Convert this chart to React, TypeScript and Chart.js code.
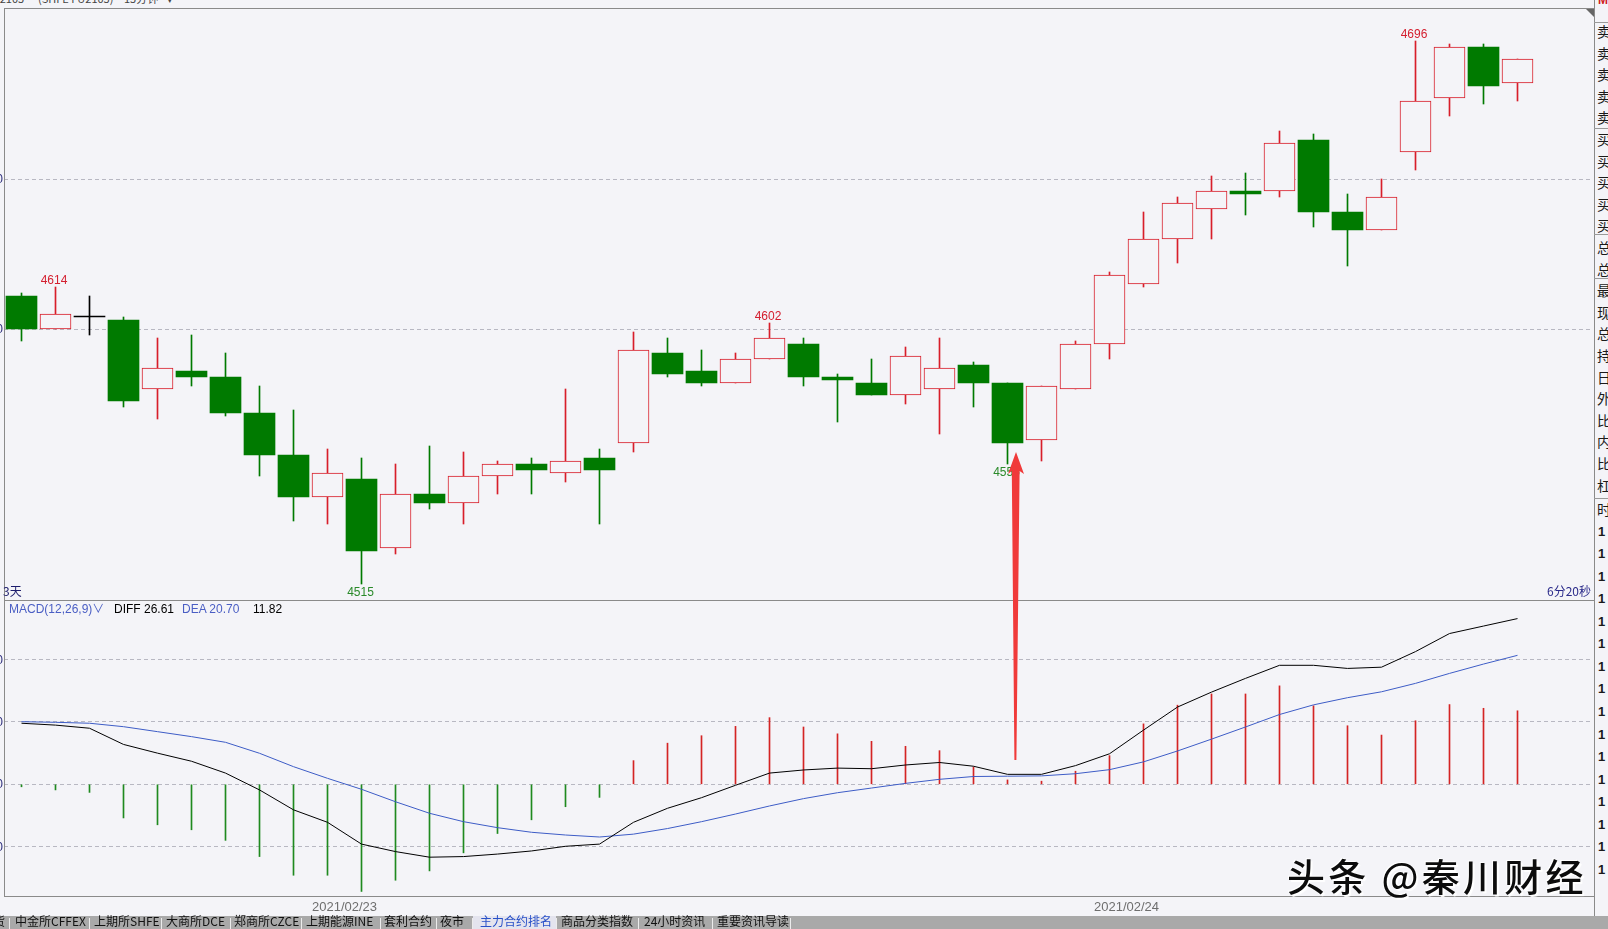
import React, { useEffect, useRef } from "react";
import { Chart, registerables } from "chart.js";

Chart.register(...registerables);

// ---------- data (15-minute candles) ----------
const opens = [4611, 4600, 4604, 4603, 4580, 4586, 4584, 4572, 4558, 4544, 4550, 4527, 4545, 4542, 4551, 4555, 4552, 4557, 4562, 4592, 4586, 4582, 4590, 4595, 4584, 4582, 4578, 4580, 4588, 4582, 4563, 4580, 4595, 4615, 4630, 4640, 4646, 4646, 4663, 4639, 4633, 4659, 4677, 4694, 4682];
const highs = [4612, 4614, 4611, 4604, 4597, 4598, 4592, 4581, 4573, 4560, 4557, 4555, 4561, 4559, 4556, 4557, 4580, 4560, 4599, 4597, 4593, 4592, 4602, 4597, 4585, 4590, 4594, 4597, 4589, 4582, 4581, 4596, 4619, 4639, 4644, 4651, 4652, 4666, 4665, 4645, 4650, 4696, 4695, 4695, 4690];
const lows = [4596, 4600, 4598, 4574, 4570, 4581, 4571, 4551, 4536, 4535, 4515, 4525, 4540, 4535, 4545, 4545, 4549, 4535, 4559, 4584, 4581, 4582, 4590, 4581, 4569, 4578, 4575, 4565, 4574, 4555, 4556, 4580, 4590, 4614, 4622, 4630, 4638, 4644, 4634, 4621, 4633, 4653, 4671, 4675, 4676];
const closes = [4600, 4605, 4604, 4576, 4587, 4584, 4572, 4558, 4544, 4552, 4526, 4545, 4542, 4551, 4555, 4553, 4556, 4553, 4593, 4585, 4582, 4590, 4597, 4584, 4583, 4578, 4591, 4587, 4582, 4562, 4581, 4595, 4618, 4630, 4642, 4646, 4645, 4662, 4639, 4633, 4644, 4676, 4694, 4681, 4690];
const highMarkIndex = [1, 22, 41];
const lowMarkIndex = [10, 29];
const priceGridTicks = [4600, 4650];

// ---------- MACD(12,26,9) ----------
const diffValues = [9.8, 9.5, 9.0, 6.4, 5.0, 3.7, 1.8, -0.9, -4.1, -6.1, -9.6, -10.8, -11.7, -11.6, -11.2, -10.7, -9.95, -9.6, -6.1, -3.85, -2.15, -0.16, 1.8, 2.3, 2.6, 2.5, 3.1, 3.5, 2.9, 1.6, 1.6, 3.0, 4.9, 8.7, 12.4, 14.8, 17.0, 19.1, 19.1, 18.6, 18.8, 21.3, 24.2, 25.4, 26.6];
const deaValues = [10.05, 9.95, 9.8, 9.25, 8.45, 7.65, 6.74, 4.98, 2.83, 0.96, -0.8, -2.8, -4.65, -6.0, -6.96, -7.7, -8.14, -8.46, -8.0, -7.1, -6.0, -4.77, -3.48, -2.3, -1.35, -0.6, 0.15, 0.8, 1.25, 1.3, 1.35, 1.7, 2.35, 3.6, 5.35, 7.25, 9.2, 11.2, 12.75, 13.9, 14.85, 16.2, 17.8, 19.3, 20.7];
const macdValues = [-0.4, -0.9, -1.3, -5.4, -6.5, -7.3, -9.0, -11.6, -14.6, -14.6, -17.2, -15.4, -13.9, -11.0, -7.9, -5.7, -3.6, -2.1, 3.8, 6.6, 7.8, 9.3, 10.7, 9.2, 8.1, 6.9, 6.1, 5.4, 2.8, 0.7, 0.5, 2.1, 4.6, 9.7, 12.7, 14.5, 14.5, 15.8, 12.6, 9.4, 7.9, 10.2, 12.8, 12.2, 11.8];
const macdGridTicks = [-10, 0, 10, 20];
const dateTickPositions = [9.5, 32.5];
const dateTickLabels = ["2021/02/23", "2021/02/24"];

const rightColumnChars = ["卖", "卖", "卖", "卖", "卖", "买", "买", "买", "买", "买", "总", "总", "最", "现", "总", "持", "日", "外", "比", "内", "比", "杠"];
const tabLabels = ["中金所CFFEX", "上期所SHFE", "大商所DCE", "郑商所CZCE", "上期能源INE", "套利合约", "夜市", "主力合约排名", "商品分类指数", "24小时资讯", "重要资讯导读"];

// ---------- layout / style constants ----------
const W = 1608;
const H = 929;
const BG = "#f4f4f8";
const UP = "#d81e2a";
const DOWN = "#007a00";
const DOJI = "#000000";
const GRID = "#b8b8c2";
const FRAME = "#8a8a8a";
const CH_LEFT = 4;
const CH_WIDTH = 1589;
const SLOT = 34;
const xMin = -0.5 - 0.5 / SLOT;
const xMax = xMin + CH_WIDTH / SLOT;
const MAIN_TOP = 9;
const MAIN_H = 591;
const priceMin = 4600 - (MAIN_H - 320) / 3;
const priceMax = 4600 + 320 / 3;
const MACD_TOP = 601;
const MACD_AREA_H = 295;
const MACD_PX_PER_UNIT = 6.23;
const MACD_ZERO = 183.3;
const macdMax = MACD_ZERO / MACD_PX_PER_UNIT;
const macdMin = -(MACD_AREA_H - MACD_ZERO) / MACD_PX_PER_UNIT;

const LATIN = '"Liberation Sans", Arial, "Noto Sans CJK SC", sans-serif';
const CJK = '"Noto Sans CJK SC", "Liberation Sans", sans-serif';

const barIndex = opens.map((_, i) => i);
const candleColor = (i: number) => (closes[i] > opens[i] ? UP : closes[i] < opens[i] ? DOWN : DOJI);

const markPlugin = {
  id: "marks",
  afterDatasetsDraw(chart: any) {
    const { ctx } = chart;
    const x = chart.scales.x;
    const y = chart.scales.y;
    ctx.save();
    ctx.font = '12px "Liberation Sans", Arial, sans-serif';
    ctx.textAlign = "center";
    highMarkIndex.forEach((i) => {
      ctx.fillStyle = "#d42030";
      ctx.textBaseline = "alphabetic";
      ctx.fillText(String(highs[i]), x.getPixelForValue(i) - 1.5, y.getPixelForValue(highs[i]) - 3);
    });
    lowMarkIndex.forEach((i) => {
      ctx.fillStyle = "#2a8a2a";
      ctx.textBaseline = "top";
      ctx.fillText(String(lows[i]), x.getPixelForValue(i) - 1, y.getPixelForValue(lows[i]) + 3);
    });
    ctx.restore();
  },
};

function Txt(props: { x: number; y: number; children: any; style?: any; right?: boolean }) {
  const base: any = {
    position: "absolute",
    top: props.y,
    whiteSpace: "nowrap",
    lineHeight: "1",
    zIndex: 5,
  };
  if (props.right) base.right = W - props.x;
  else base.left = props.x;
  return <span style={{ ...base, ...(props.style || {}) }}>{props.children}</span>;
}

function Line(props: { x: number; y: number; w: number; h: number; c?: string }) {
  return (
    <div
      style={{
        position: "absolute",
        left: props.x,
        top: props.y,
        width: props.w,
        height: props.h,
        background: props.c || FRAME,
        zIndex: 4,
      }}
    />
  );
}

export default function App() {
  const mainRef = useRef<HTMLCanvasElement>(null);
  const macdRef = useRef<HTMLCanvasElement>(null);

  useEffect(() => {
    const main = new Chart(mainRef.current as HTMLCanvasElement, {
      type: "bar",
      data: {
        datasets: [
          {
            label: "body",
            data: barIndex.map((i) => ({ x: i, y: [opens[i], closes[i]] })) as any,
            backgroundColor: barIndex.map((i) => (closes[i] > opens[i] ? BG : candleColor(i))),
            borderColor: barIndex.map((i) => candleColor(i)),
            borderWidth: barIndex.map((i) => (closes[i] > opens[i] ? 1 : 0)) as any,
            borderSkipped: false,
            barThickness: 31,
            minBarLength: 1,
            grouped: false,
            order: 0,
          } as any,
          {
            label: "wick",
            data: barIndex.map((i) => ({ x: i, y: [lows[i], highs[i]] })) as any,
            backgroundColor: barIndex.map((i) => candleColor(i)),
            borderWidth: 0,
            barThickness: 1,
            grouped: false,
            order: 1,
          } as any,
        ],
      },
      options: {
        responsive: false,
        animation: false,
        events: [],
        layout: { padding: 0 },
        plugins: { legend: { display: false }, tooltip: { enabled: false } },
        scales: {
          x: { type: "linear", min: xMin, max: xMax, display: false, offset: false },
          y: {
            type: "linear",
            min: priceMin,
            max: priceMax,
            position: "left",
            afterBuildTicks: (s: any) => {
              s.ticks = priceGridTicks.map((v) => ({ value: v }));
            },
            afterFit: (s: any) => {
              s.width = 0;
            },
            ticks: { display: false },
            grid: { color: GRID, lineWidth: 1, drawTicks: false },
            border: { display: false, dash: [4, 3] },
          } as any,
        },
      },
      plugins: [markPlugin],
    });

    const macd = new Chart(macdRef.current as HTMLCanvasElement, {
      type: "bar",
      data: {
        datasets: [
          {
            type: "line",
            label: "DIFF",
            data: barIndex.map((i) => ({ x: i, y: diffValues[i] })),
            borderColor: "#000000",
            borderWidth: 1,
            pointRadius: 0,
            tension: 0,
            order: 0,
          } as any,
          {
            type: "line",
            label: "DEA",
            data: barIndex.map((i) => ({ x: i, y: deaValues[i] })),
            borderColor: "#3d5cc6",
            borderWidth: 1,
            pointRadius: 0,
            tension: 0,
            order: 1,
          } as any,
          {
            type: "bar",
            label: "MACD",
            data: barIndex.map((i) => ({ x: i, y: macdValues[i] })),
            backgroundColor: macdValues.map((v) => (v >= 0 ? "#d42424" : "#1f8a1f")),
            borderWidth: 0,
            barThickness: 1,
            grouped: false,
            order: 2,
          } as any,
        ],
      },
      options: {
        responsive: false,
        animation: false,
        events: [],
        layout: { padding: 0 },
        plugins: { legend: { display: false }, tooltip: { enabled: false } },
        scales: {
          x: {
            type: "linear",
            min: xMin,
            max: xMax,
            offset: false,
            afterBuildTicks: (s: any) => {
              s.ticks = dateTickPositions.map((v) => ({ value: v }));
            },
            afterFit: (s: any) => {
              s.height = 20;
            },
            ticks: {
              autoSkip: false,
              maxRotation: 0,
              minRotation: 0,
              padding: 3.4,
              color: "#6e6e6e",
              font: { size: 13, family: '"Liberation Sans", Arial, sans-serif' },
              callback: (v: any) => {
                const k = dateTickPositions.indexOf(Number(v));
                return k >= 0 ? dateTickLabels[k] : "";
              },
            },
            grid: { display: false, drawTicks: false },
            border: { display: false },
          } as any,
          y: {
            type: "linear",
            min: macdMin,
            max: macdMax,
            position: "left",
            afterBuildTicks: (s: any) => {
              s.ticks = macdGridTicks.map((v) => ({ value: v }));
            },
            afterFit: (s: any) => {
              s.width = 0;
            },
            ticks: { display: false },
            grid: { color: GRID, lineWidth: 1, drawTicks: false },
            border: { display: false, dash: [4, 3] },
          } as any,
        },
      },
    });

    return () => {
      main.destroy();
      macd.destroy();
    };
  }, []);

  const rightItems: any[] = [];
  rightColumnChars.forEach((c, k) => {
    rightItems.push(
      <Txt key={"rc" + k} x={1597} y={32 + k * 21.6 - 8} style={{ fontFamily: CJK, fontSize: 14, color: "#1a1a1a" }}>
        {c}
      </Txt>
    );
  });
  rightItems.push(
    <Txt key="time" x={1597} y={510 - 8} style={{ fontFamily: CJK, fontSize: 14, color: "#1a1a1a" }}>
      时
    </Txt>
  );
  for (let k = 0; k < 16; k++) {
    rightItems.push(
      <Txt key={"one" + k} x={1598} y={531.5 + k * 22.57 - 7} style={{ fontFamily: LATIN, fontSize: 13, fontWeight: 700, color: "#1a1a1a" }}>
        1
      </Txt>
    );
  }

  const tabX = [15, 94, 166, 234, 306, 384, 440, 480, 561, 644, 717];
  const sepX = [9, 89, 161, 230, 301, 380, 436, 472, 556, 638, 712, 790];
  const titleStyle = { fontSize: 11, color: "#444", fontFamily: CJK };

  return (
    <div
      style={{
        position: "absolute",
        left: 0,
        top: 0,
        width: W,
        height: H,
        overflow: "hidden",
        background: BG,
        fontFamily: LATIN,
      }}
    >
      <canvas
        ref={mainRef}
        width={CH_WIDTH}
        height={MAIN_H}
        style={{ position: "absolute", left: CH_LEFT, top: MAIN_TOP, width: CH_WIDTH, height: MAIN_H }}
      />
      <canvas
        ref={macdRef}
        width={CH_WIDTH}
        height={MACD_AREA_H + 20}
        style={{ position: "absolute", left: CH_LEFT, top: MACD_TOP, width: CH_WIDTH, height: MACD_AREA_H + 20 }}
      />

      {/* frame */}
      <Line x={4} y={8} w={1590} h={1} />
      <Line x={4} y={8} w={1} h={889} />
      <Line x={4} y={600} w={1590} h={1} />
      <Line x={4} y={896} w={1590} h={1} />
      <Line x={1594} y={0} w={1} h={916} />
      <Line x={1594} y={22} w={14} h={1} c="#9a9a9a" />
      <Line x={1594} y={128} w={14} h={1} c="#9a9a9a" />
      <Line x={1594} y={234} w={14} h={1} c="#9a9a9a" />
      <Line x={1594} y={278} w={14} h={1} c="#9a9a9a" />
      <Line x={1594} y={498} w={14} h={1} c="#9a9a9a" />

      {/* title (cut at the top) */}
      <Txt x={-4} y={-7} style={titleStyle}>(2105</Txt>
      <Txt x={38} y={-7} style={titleStyle}>(SHFE FU2105)</Txt>
      <Txt x={124} y={-7} style={titleStyle}>15分钟</Txt>
      <Txt x={167} y={-7} style={titleStyle}>▾</Txt>
      <Txt x={1598} y={-6} style={{ fontSize: 12, color: "#d02020", fontWeight: 700 }}>M</Txt>

      {/* clipped axis labels at the left edge */}
      <Txt x={3} right y={173} style={{ fontSize: 12, color: "#2a2a7a" }}>4650</Txt>
      <Txt x={3} right y={323} style={{ fontSize: 12, color: "#2a2a7a" }}>4600</Txt>
      <Txt x={3} right y={654} style={{ fontSize: 12, color: "#2a2a7a" }}>20</Txt>
      <Txt x={3} right y={716} style={{ fontSize: 12, color: "#2a2a7a" }}>10</Txt>
      <Txt x={3} right y={778} style={{ fontSize: 12, color: "#2a2a7a" }}>0</Txt>
      <Txt x={3} right y={841} style={{ fontSize: 12, color: "#2a2a7a" }}>-10</Txt>

      {/* main panel captions */}
      <Txt x={3} y={585} style={{ fontSize: 12, color: "#1c1c6c", fontFamily: CJK }}>3天</Txt>
      <Txt x={1591} right y={585} style={{ fontSize: 12, color: "#2a2a8a", fontFamily: CJK }}>6分20秒</Txt>

      {/* MACD legend */}
      <Txt x={9} y={603} style={{ fontSize: 12, color: "#4a5ec4" }}>MACD(12,26,9)∨</Txt>
      <Txt x={114} y={603} style={{ fontSize: 12, color: "#000" }}>DIFF 26.61</Txt>
      <Txt x={182} y={603} style={{ fontSize: 12, color: "#4a5ec4" }}>DEA 20.70</Txt>
      <Txt x={253} y={603} style={{ fontSize: 12, color: "#000" }}>11.82</Txt>

      {/* right column */}
      {rightItems}

      {/* bottom tab bar */}
      <div style={{ position: "absolute", left: 0, top: 916, width: W, height: 13, background: "#a9a9a9", zIndex: 4 }} />
      <div style={{ position: "absolute", left: 473, top: 916, width: 83, height: 13, background: "#e4e4ee", zIndex: 4 }} />
      <Txt x={-7} y={915} style={{ fontSize: 12, fontFamily: CJK, color: "#111" }}>货</Txt>
      {sepX.map((sx, k) => (
        <Line key={"sep" + k} x={sx} y={918} w={1} h={11} c="#ececec" />
      ))}
      {tabLabels.map((t, k) => (
        <Txt
          key={"tab" + k}
          x={tabX[k]}
          y={915}
          style={{ fontSize: 12, fontFamily: CJK, color: k === 7 ? "#2850c8" : "#111" }}
        >
          {t}
        </Txt>
      ))}

      {/* red arrow */}
      <svg
        width={W}
        height={H}
        style={{ position: "absolute", left: 0, top: 0, zIndex: 8, pointerEvents: "none" }}
      >
        <polygon
          points="1016,452 1024,474 1019.6,471 1016.4,760 1014.4,760 1011.8,471 1008,474"
          fill="#f03a3a"
        />
        <polygon points="1586,9 1594,9 1594,17" fill="#666" />
      </svg>

      {/* watermark */}
      <Txt
        x={1287}
        y={856}
        style={{
          fontSize: 38,
          fontWeight: 500,
          letterSpacing: 3.3,
          fontFamily: CJK,
          color: "#0c0c0c",
          textShadow: "2px 2px 1px #ffffff, -1px -1px 0 #ffffff",
          zIndex: 9,
        }}
      >
        头条 @秦川财经
      </Txt>
    </div>
  );
}
